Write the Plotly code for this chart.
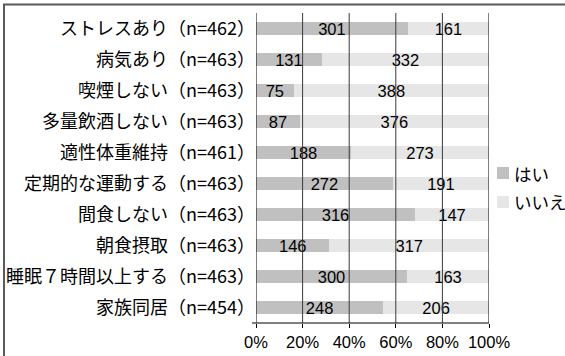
import plotly.graph_objects as go

# Survey items (top to bottom) and answer counts
categories = [
    "ストレスあり（n=462）",
    "病気あり（n=463）",
    "喫煙しない（n=463）",
    "多量飲酒しない（n=463）",
    "適性体重維持（n=461）",
    "定期的な運動する（n=463）",
    "間食しない（n=463）",
    "朝食摂取（n=463）",
    "睡眠７時間以上する（n=463）",
    "家族同居（n=454）",
]
yes_counts = [301, 131, 75, 87, 188, 272, 316, 146, 300, 248]
no_counts = [161, 332, 388, 376, 273, 191, 147, 317, 163, 206]
series_names = ["はい", "いいえ"]
series_colors = ["#c0c0c0", "#e6e6e6"]
tick_values = [0, 20, 40, 60, 80, 100]
tick_labels = ["0%", "20%", "40%", "60%", "80%", "100%"]

W, H = 565, 356
ML, MR, MT, MB = 256, 76, 13, 33
PW, PH = W - ML - MR, H - MT - MB

JP_FONT = "Noto Sans CJK JP"
NUM_FONT = "Liberation Sans"


def px_x(x):
    return (x - ML) / PW


def px_y(y):
    return (H - MB - y) / PH


fig = go.Figure()
for name, vals, color in zip(series_names, [yes_counts, no_counts], series_colors):
    fig.add_trace(
        go.Bar(
            name=name,
            y=categories,
            x=vals,
            orientation="h",
            marker=dict(color=color, line=dict(width=0)),
            text=[str(v) for v in vals],
            textposition="inside",
            insidetextanchor="middle",
            textangle=0,
            constraintext="none",
            textfont=dict(family=NUM_FONT, size=16.5, color="#000000"),
            cliponaxis=False,
            showlegend=False,
        )
    )

shapes = []
annotations = []
# vertical grid lines drawn over the bars
for v in tick_values[1:]:
    shapes.append(dict(type="line", xref="x", yref="paper", x0=v, x1=v, y0=0, y1=1,
                       line=dict(color="#3a3a3a" if v < 100 else "#000000", width=1),
                       layer="above"))
# category axis line and value axis line
shapes.append(dict(type="line", xref="x", yref="paper", x0=0, x1=0, y0=0, y1=1,
                   line=dict(color="#000000", width=1), layer="above"))
shapes.append(dict(type="line", xref="paper", yref="paper", x0=px_x(252), x1=1, y0=0, y1=0,
                   line=dict(color="#000000", width=1), layer="above"))
# outer frame
shapes.append(dict(type="rect", xref="paper", yref="paper",
                   x0=px_x(4), x1=px_x(600), y0=px_y(400), y1=px_y(4.5),
                   line=dict(color="#5a5a5a", width=2), fillcolor="rgba(0,0,0,0)",
                   layer="below"))

# legend: colour key plus series name
for i, (name, color) in enumerate(zip(series_names, series_colors)):
    yc = 173 + i * 29
    shapes.append(dict(type="rect", xref="paper", yref="paper",
                       x0=px_x(497), x1=px_x(509), y0=px_y(yc + 6), y1=px_y(yc - 6),
                       line=dict(width=0), fillcolor=color, layer="above"))
    annotations.append(dict(text=name, xref="paper", yref="paper",
                            x=px_x(512), y=px_y(yc), xanchor="left", yanchor="middle",
                            showarrow=False,
                            font=dict(family=JP_FONT, size=17.5, color="#000000")))

fig.update_layout(
    width=W,
    height=H,
    margin=dict(l=ML, r=MR, t=MT, b=MB, pad=0, autoexpand=False),
    barmode="stack",
    barnorm="percent",
    bargap=0.6,
    plot_bgcolor="#ffffff",
    paper_bgcolor="#ffffff",
    font=dict(family=JP_FONT, size=18, color="#000000"),
    uniformtext=dict(mode="show", minsize=16.5),
    shapes=shapes,
    annotations=annotations,
    showlegend=False,
    xaxis=dict(
        range=[0, 100],
        tickvals=tick_values,
        ticktext=tick_labels,
        showgrid=False,
        zeroline=False,
        showline=False,
        ticks="outside",
        ticklen=4,
        tickcolor="#000000",
        tickfont=dict(family=NUM_FONT, size=16.5, color="#000000"),
        fixedrange=True,
    ),
    yaxis=dict(
        categoryorder="array",
        categoryarray=categories,
        autorange="reversed",
        showgrid=False,
        zeroline=False,
        showline=False,
        ticks="",
        ticklabelstandoff=0,
        tickfont=dict(family=JP_FONT, size=18, color="#000000"),
        fixedrange=True,
    ),
)

fig.write_html("out.html", config={"displayModeBar": False})
